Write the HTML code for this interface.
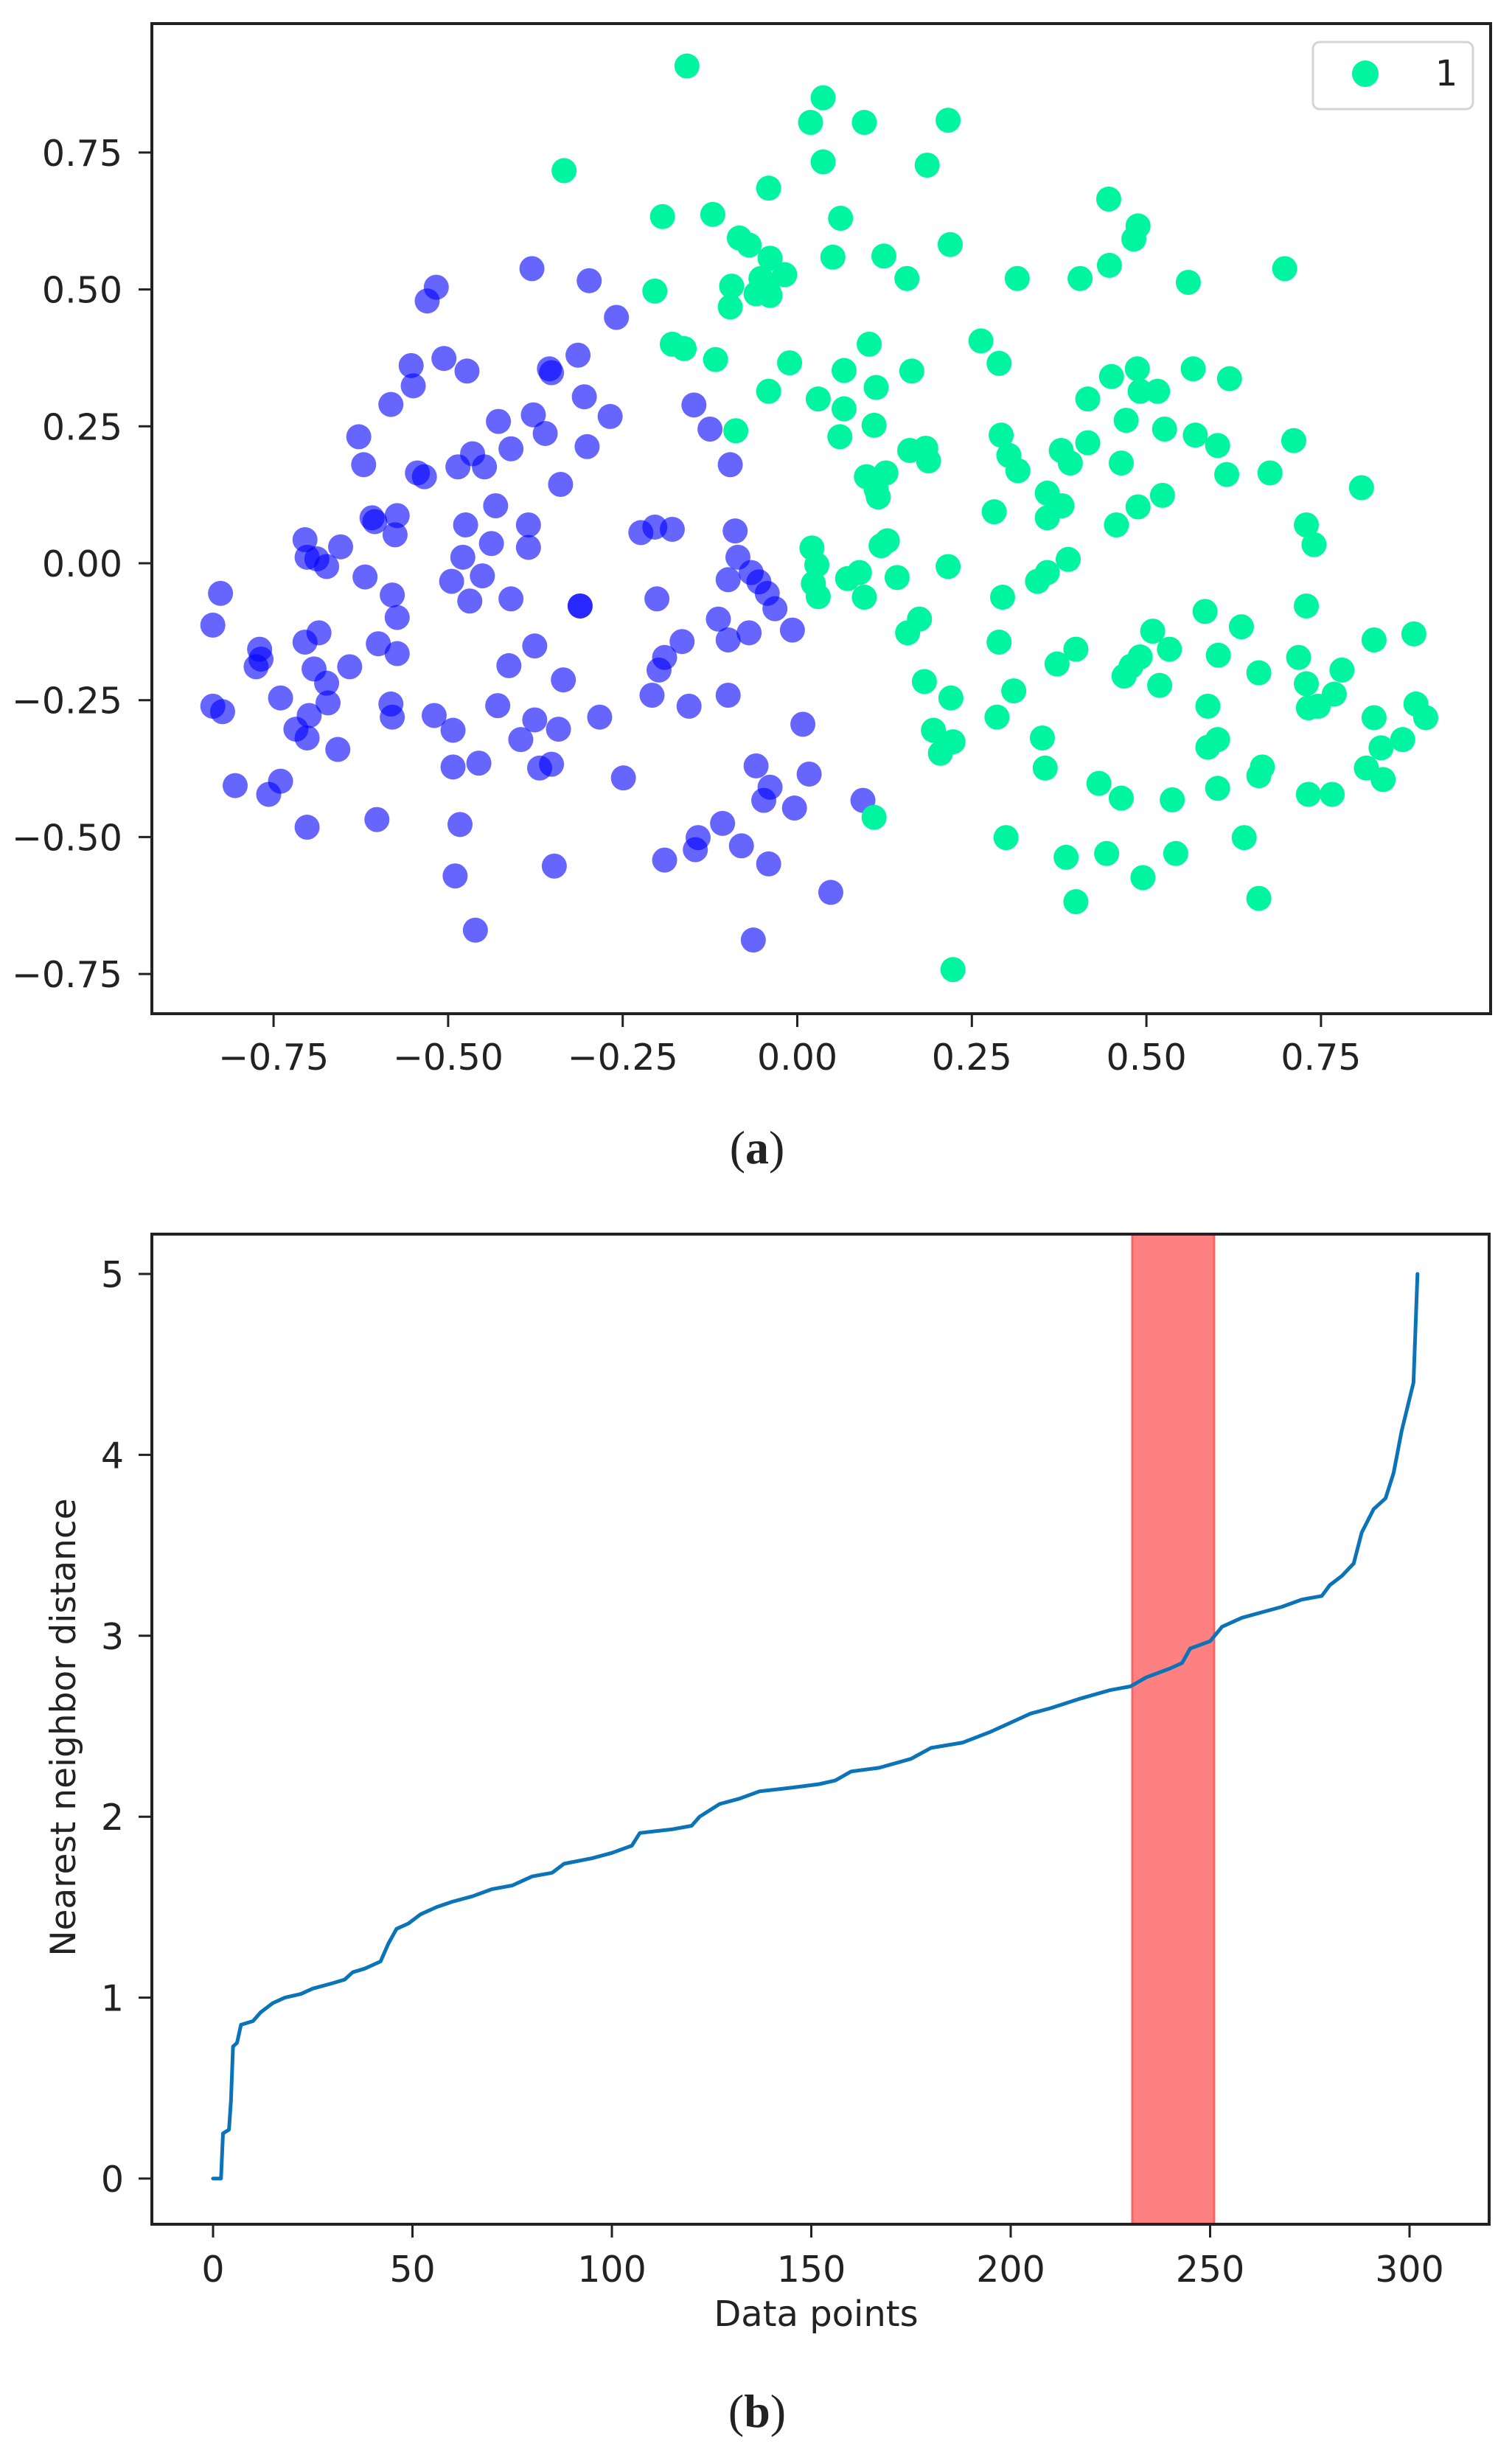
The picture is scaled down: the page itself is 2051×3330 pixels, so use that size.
<!DOCTYPE html>
<html><head><meta charset="utf-8"><style>
html,body{margin:0;padding:0;background:#fff;}
svg{display:block;}
text{font-family:"DejaVu Sans","Liberation Sans",sans-serif;fill:#222;}
</style></head><body>
<svg id="fig" width="2051" height="3330" viewBox="0 0 2051 3330" xmlns="http://www.w3.org/2000/svg">
<rect x="0" y="0" width="2051" height="3330" fill="#fff"/>
<g id="scatterMarks"></g>
<rect x="206" y="32" width="1816" height="1343" fill="none" stroke="#222" stroke-width="4"/>
<g id="scatterAxes"></g>
<g>
<rect x="1781" y="57" width="217" height="91" rx="9" fill="#fff" stroke="#d4d4d4" stroke-width="3"/>
<circle cx="1852" cy="100" r="18" fill="#00f5a0"/>
<text x="1962" y="116" font-size="48" text-anchor="middle">1</text>
</g>
<text x="1027" y="1578" font-size="64" text-anchor="middle" style="font-family:'Liberation Serif',serif">(<tspan font-weight="bold">a</tspan>)</text>

<g id="kdistMarks"></g>
<rect x="206" y="1674" width="1814" height="1343" fill="none" stroke="#222" stroke-width="4"/>
<g id="kdistAxes"></g>
<text x="1107" y="3155" font-size="48" text-anchor="middle">Data points</text>
<text x="0" y="0" font-size="47" text-anchor="middle" transform="translate(102,2343) rotate(-90)">Nearest neighbor distance</text>
<text x="1027" y="3292" font-size="64" text-anchor="middle" style="font-family:'Liberation Serif',serif">(<tspan font-weight="bold">b</tspan>)</text>
</svg>
<script>
const NS="http://www.w3.org/2000/svg";
// ---------- scatter data ----------
const blueX=[-0.837,-0.826,-0.837,-0.823,-0.805,-0.77,-0.768,-0.775,-0.757,-0.740,-0.740,-0.718,-0.702,-0.705,-0.702,-0.688,-0.674,-0.705,-0.685,-0.692,-0.674,-0.672,-0.699,-0.702,-0.658,-0.654,-0.641,-0.628,-0.621,-0.619,-0.609,-0.605,-0.602,-0.600,-0.582,-0.580,-0.576,-0.573,-0.573,-0.573,-0.582,-0.580,-0.553,-0.550,-0.544,-0.534,-0.530,-0.517,-0.520,-0.506,-0.495,-0.493,-0.493,-0.490,-0.483,-0.486,-0.479,-0.475,-0.473,-0.469,-0.465,-0.448,-0.461,-0.456,-0.451,-0.438,-0.432,-0.429,-0.428,-0.413,-0.410,-0.410,-0.396,-0.385,-0.385,-0.380,-0.378,-0.376,-0.376,-0.369,-0.352,-0.361,-0.355,-0.352,-0.348,-0.342,-0.339,-0.335,-0.314,-0.311,-0.311,-0.305,-0.301,-0.298,-0.283,-0.268,-0.259,-0.249,-0.224,-0.208,-0.204,-0.179,-0.201,-0.198,-0.190,-0.190,-0.165,-0.155,-0.148,-0.146,-0.142,-0.125,-0.113,-0.107,-0.099,-0.099,-0.099,-0.096,-0.089,-0.085,-0.080,-0.069,-0.066,-0.055,-0.063,-0.059,-0.048,-0.039,-0.043,-0.032,-0.041,-0.007,-0.004,0.008,0.017,0.048,0.094];
const blueY=[-0.113,-0.055,-0.261,-0.271,-0.406,-0.157,-0.175,-0.189,-0.422,-0.246,-0.398,-0.303,-0.482,0.043,0.011,0.008,-0.006,-0.144,-0.127,-0.193,-0.219,-0.255,-0.278,-0.319,-0.340,0.030,-0.189,0.231,0.180,-0.025,0.083,0.076,-0.468,-0.147,0.290,-0.058,0.052,0.087,-0.099,-0.165,-0.257,-0.281,0.361,0.324,0.165,0.158,0.479,0.504,-0.278,0.374,-0.033,-0.305,-0.372,-0.571,-0.477,0.176,0.011,0.070,0.351,-0.069,0.200,0.176,-0.670,-0.365,-0.023,0.036,0.105,-0.260,0.259,-0.187,0.209,-0.065,-0.322,0.070,0.029,0.538,0.271,-0.286,-0.151,-0.374,-0.367,0.237,0.355,0.348,-0.553,-0.303,0.144,-0.213,0.380,-0.078,-0.078,0.304,0.213,0.516,-0.281,0.268,0.449,-0.392,0.056,-0.241,0.066,0.062,-0.065,-0.195,-0.172,-0.542,-0.143,-0.261,0.289,-0.523,-0.501,0.245,-0.102,-0.475,-0.241,-0.030,-0.140,0.180,0.059,0.011,-0.516,-0.127,-0.017,-0.034,-0.688,-0.370,-0.433,-0.409,-0.055,-0.083,-0.549,-0.122,-0.447,-0.294,-0.385,-0.601,-0.433];
const greenX=[-0.158,-0.334,-0.193,-0.121,-0.204,-0.179,-0.162,-0.117,-0.083,-0.069,-0.094,-0.096,-0.088,-0.052,-0.039,-0.041,-0.018,-0.059,-0.039,-0.041,-0.041,-0.011,0.019,0.037,0.037,0.096,0.062,0.051,0.030,0.067,0.067,0.061,0.021,0.028,0.023,0.030,0.072,0.089,0.096,0.103,0.113,0.110,0.099,0.127,0.113,0.116,0.124,0.120,0.129,0.143,0.110,0.157,0.164,0.161,0.158,0.175,0.186,0.184,0.188,0.182,0.195,0.205,0.223,0.216,0.219,0.216,0.220,0.223,0.263,0.289,0.282,0.292,0.303,0.316,0.294,0.289,0.310,0.286,0.299,0.315,0.351,0.355,0.344,0.358,0.358,0.358,0.379,0.372,0.378,0.391,0.416,0.385,0.388,0.399,0.399,0.405,0.416,0.432,0.443,0.446,0.447,0.450,0.457,0.464,0.464,0.468,0.478,0.491,0.471,0.482,0.488,0.487,0.491,0.516,0.488,0.495,0.509,0.519,0.523,0.526,0.533,0.537,0.542,0.560,0.567,0.570,0.584,0.588,0.588,0.602,0.602,0.603,0.602,0.615,0.619,0.636,0.640,0.661,0.661,0.666,0.661,0.677,0.698,0.711,0.718,0.729,0.740,0.729,0.729,0.732,0.746,0.732,0.766,0.769,0.780,0.808,0.815,0.826,0.826,0.836,0.839,0.867,0.883,0.886,0.900];
const greenY=[0.908,0.717,0.633,0.637,0.497,0.400,0.392,0.372,0.594,0.581,0.506,0.468,0.242,0.520,0.557,0.495,0.527,0.492,0.489,0.685,0.314,0.366,0.805,0.850,0.733,0.805,0.630,0.559,0.300,0.352,0.282,0.231,0.028,-0.003,-0.037,-0.061,-0.028,-0.017,-0.062,0.400,0.321,0.252,0.158,0.165,0.135,0.121,0.561,0.032,0.041,-0.026,-0.464,0.520,0.351,0.206,-0.127,-0.102,0.727,0.210,0.187,-0.216,-0.305,-0.347,-0.326,0.809,0.582,-0.006,-0.246,-0.742,0.406,0.365,0.094,0.234,0.197,0.169,-0.062,-0.144,-0.233,-0.281,-0.501,0.520,-0.319,-0.374,-0.033,-0.017,0.128,0.083,0.105,-0.184,0.206,0.183,0.220,-0.537,0.007,-0.157,-0.618,0.520,0.300,-0.402,-0.530,0.665,0.544,0.341,0.070,0.183,-0.429,-0.206,-0.188,-0.171,0.261,0.592,0.616,0.355,0.314,0.314,0.103,-0.574,-0.124,-0.223,0.124,0.245,-0.157,-0.432,-0.530,0.513,0.355,0.234,-0.088,-0.261,-0.336,-0.322,0.215,-0.168,-0.411,0.162,0.337,-0.116,-0.501,-0.200,-0.388,-0.372,-0.612,0.165,0.538,0.224,-0.172,0.070,0.034,-0.078,-0.220,-0.264,-0.261,-0.422,-0.422,-0.239,-0.195,0.138,-0.374,-0.140,-0.282,-0.337,-0.395,-0.322,-0.129,-0.257,-0.282];
const scatterXTicks=[-0.75,-0.50,-0.25,0.00,0.25,0.50,0.75];
const scatterXTickLabels=["\u22120.75","\u22120.50","\u22120.25","0.00","0.25","0.50","0.75"];
const scatterYTicks=[0.75,0.50,0.25,0.00,-0.25,-0.50,-0.75];
const scatterYTickLabels=["0.75","0.50","0.25","0.00","\u22120.25","\u22120.50","\u22120.75"];
// ---------- k-distance data ----------
const kIndex=[0,2,2.5,4,4.5,5,6,7,10,12,15,18,22,25,30,33,35,38,41,42,44,46,49,52,56,60,65,70,75,80,85,88,95,100,105,107,115,120,122,127,132,137,145,152,156,160,167,175,180,188,195,200,205,210,217,225,230,234,240,243,245,250,253,258,263,268,273,278,280,283,286,288,291,294,296,298,301,302];
const kDist=[0,0,0.25,0.27,0.43,0.73,0.75,0.85,0.87,0.92,0.97,1.0,1.02,1.05,1.08,1.1,1.14,1.16,1.19,1.2,1.3,1.38,1.41,1.46,1.5,1.53,1.56,1.6,1.62,1.67,1.69,1.74,1.77,1.8,1.84,1.91,1.93,1.95,2.0,2.07,2.1,2.14,2.16,2.18,2.2,2.25,2.27,2.32,2.38,2.41,2.47,2.52,2.57,2.6,2.65,2.7,2.72,2.77,2.82,2.85,2.93,2.97,3.05,3.1,3.13,3.16,3.2,3.22,3.28,3.33,3.4,3.57,3.7,3.76,3.9,4.13,4.4,5.0];
const bandRange=[230.5,251];
const kXTicks=[0,50,100,150,200,250,300];
const kXTickLabels=["0","50","100","150","200","250","300"];
const kYTicks=[0,1,2,3,4,5];
const kYTickLabels=["0","1","2","3","4","5"];

// axis functions
const sx=v=>1081.5+v*947.2, sy=v=>764-v*742.8;
const kx=v=>289+v*5.41, ky=v=>2955-v*245.4;

function mk(tag,attrs,parent){const e=document.createElementNS(NS,tag);for(const k in attrs)e.setAttribute(k,attrs[k]);parent.appendChild(e);return e;}

const sm=document.getElementById('scatterMarks');
for(let i=0;i<blueX.length;i++){
  const c=mk('circle',{cx:sx(blueX[i]),cy:sy(blueY[i]),r:17,fill:'#0000ff','fill-opacity':0.6},sm);
  
  
}
for(let i=0;i<greenX.length;i++){
  const c=mk('circle',{cx:sx(greenX[i]),cy:sy(greenY[i]),r:17,fill:'#00f5a0'},sm);
  
  
}
const sa=document.getElementById('scatterAxes');
scatterXTicks.forEach((t,i)=>{
  const l=mk('line',{x1:sx(t),x2:sx(t),y1:1375,y2:1393,stroke:'#222','stroke-width':3},sa);
  
  
  const tx=mk('text',{x:sx(t),y:1451,'font-size':49,'text-anchor':'middle'},sa);
  tx.textContent=scatterXTickLabels[i];
  
  
});
scatterYTicks.forEach((t,i)=>{
  const l=mk('line',{x1:188,x2:206,y1:sy(t),y2:sy(t),stroke:'#222','stroke-width':3},sa);
  
  
  const tx=mk('text',{x:166,y:sy(t)+18,'font-size':49,'text-anchor':'end'},sa);
  tx.textContent=scatterYTickLabels[i];
  
  
});

const km=document.getElementById('kdistMarks');
const band=mk('rect',{x:kx(bandRange[0]),y:1674,width:kx(bandRange[1])-kx(bandRange[0]),height:1343,fill:'#ff8080',stroke:'#ff6060','stroke-width':3},km);


let d='';
kIndex.forEach((v,i)=>{d+=(i?'L':'M')+kx(v).toFixed(1)+' '+ky(kDist[i]).toFixed(1)+' ';});
const path=mk('path',{d:d,fill:'none',stroke:'#0b74b8','stroke-width':5,'stroke-linejoin':'round','stroke-linecap':'round'},km);


const ka=document.getElementById('kdistAxes');
kXTicks.forEach((t,i)=>{
  const l=mk('line',{x1:kx(t),x2:kx(t),y1:3017,y2:3035,stroke:'#222','stroke-width':3},ka);
  
  
  const tx=mk('text',{x:kx(t),y:3095,'font-size':49,'text-anchor':'middle'},ka);
  tx.textContent=kXTickLabels[i];
  
  
});
kYTicks.forEach((t,i)=>{
  const l=mk('line',{x1:188,x2:206,y1:ky(t),y2:ky(t),stroke:'#222','stroke-width':3},ka);
  
  
  const tx=mk('text',{x:168,y:ky(t)+18,'font-size':49,'text-anchor':'end'},ka);
  tx.textContent=kYTickLabels[i];
  
  
});
</script>
</body></html>
